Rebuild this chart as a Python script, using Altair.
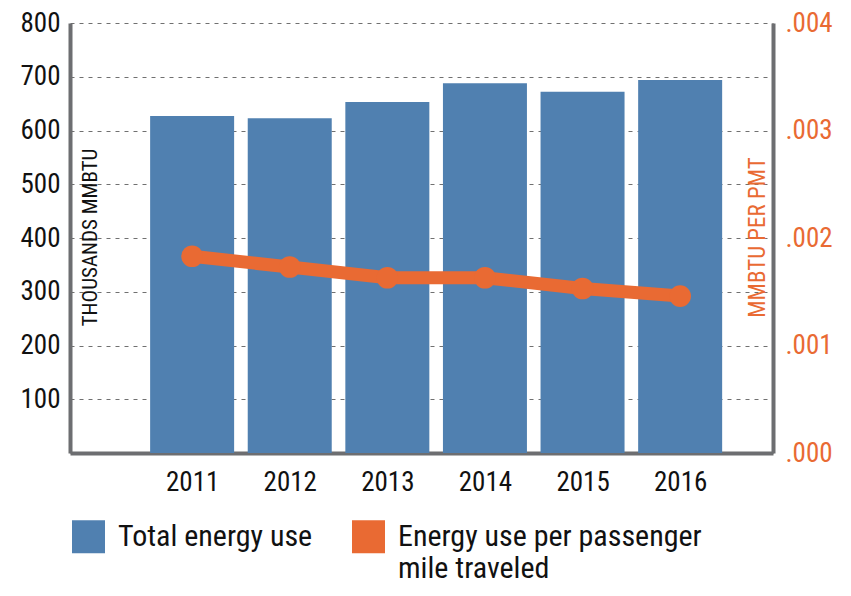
import altair as alt
import pandas as pd

years = [2011, 2012, 2013, 2014, 2015, 2016]
total_energy = [627, 623, 653, 688, 672, 694]          # thousands MMBTU
energy_per_pmt = [0.00183, 0.00173, 0.00163, 0.00163, 0.00153, 0.00146]  # MMBTU per PMT
series_names = ["Total energy use", "Energy use per passenger mile traveled"]

BLUE = "#5080B0"
ORANGE = "#E96A33"
AXIS_GRAY = "#6D6E71"
FONT = "Roboto Condensed, Liberation Sans Narrow, DejaVu Sans Condensed, sans-serif"

df = pd.DataFrame({"year": years, "total": total_energy, "per_pmt": energy_per_pmt})
df_bar = df.assign(series=series_names[0])
df_line = df.assign(series=series_names[1])

xscale = alt.Scale(domain=[2009.8, 2016.9], nice=False, zero=False)
xaxis = alt.Axis(values=years, format="d", ticks=False, grid=False, title=None,
                 domainColor=AXIS_GRAY, domainWidth=4, labelFontSize=27, labelFont=FONT,
                 labelColor="#111111", labelPadding=16, labelFlush=False)
color_scale = alt.Scale(domain=series_names, range=[BLUE, ORANGE])
legend = alt.Legend(orient="none", legendX=2, legendY=497, direction="horizontal",
                    title=None, symbolType="square", symbolSize=1089,
                    symbolStrokeWidth=0, symbolOpacity=1,
                    labelFontSize=30, labelFont=FONT, labelColor="#111111",
                    labelOffset=13, labelLimit=500, columnPadding=39,
                    labelBaseline="middle",
                    labelExpr="datum.label == 'Energy use per passenger mile traveled' ? ['Energy use per passenger', 'mile traveled'] : [datum.label, '']")

bars = alt.Chart(df_bar).mark_bar(size=84).encode(
    x=alt.X("year:Q", scale=xscale, axis=xaxis),
    y=alt.Y("total:Q", scale=alt.Scale(domain=[0, 800], nice=False),
            axis=alt.Axis(orient="left", values=[0, 100, 200, 300, 400, 500, 600, 700, 800],
                          labelExpr="datum.value == 0 ? '' : datum.label",
                          ticks=False, grid=True, gridDash=[4, 5], gridColor="#707070", gridWidth=1,
                          domainColor=AXIS_GRAY, domainWidth=4,
                          labelFontSize=27, labelFont=FONT, labelColor="#111111", labelPadding=10,
                          title="THOUSANDS MMBTU", titleFont=FONT, titleFontSize=21,
                          titleFontWeight="normal", titleColor="#111111", titleAngle=270,
                          titleX=20, titleY=214, titleAlign="center", titleBaseline="middle")),
    color=alt.Color("series:N", scale=color_scale, legend=legend),
)

yright = alt.Scale(domain=[0, 0.004], nice=False)
line = alt.Chart(df_line).mark_line(strokeWidth=13, color=ORANGE).encode(
    x=alt.X("year:Q", scale=xscale, axis=xaxis),
    y=alt.Y("per_pmt:Q", scale=yright,
            axis=alt.Axis(orient="right", values=[0, 0.001, 0.002, 0.003, 0.004],
                          labelExpr="substring(format(datum.value, '.3f'), 1)",
                          ticks=False, grid=False, domainColor=AXIS_GRAY, domainWidth=4,
                          labelFontSize=27, labelFont=FONT, labelColor=ORANGE, labelPadding=12,
                          title="MMBTU PER PMT", titleFont=FONT, titleFontSize=23,
                          titleFontWeight="normal", titleColor=ORANGE, titleAngle=270,
                          titleX=-16, titleY=214, titleAlign="center", titleBaseline="middle")),
)
points = alt.Chart(df_line).mark_point(filled=True, size=470, opacity=1).encode(
    x=alt.X("year:Q", scale=xscale, axis=xaxis),
    y=alt.Y("per_pmt:Q", scale=yright, axis=None),
    color=alt.Color("series:N", scale=color_scale, legend=legend),
)

chart = alt.layer(bars, line, points).resolve_scale(y="independent").properties(
    width=703, height=430,
    autosize=alt.AutoSizeParams(type="none"),
    padding={"left": 62, "top": 15, "right": 70, "bottom": 133},
    background="white",
).configure_view(stroke=None)

chart.save("out.html", embed_options={"renderer": "svg", "actions": False})
